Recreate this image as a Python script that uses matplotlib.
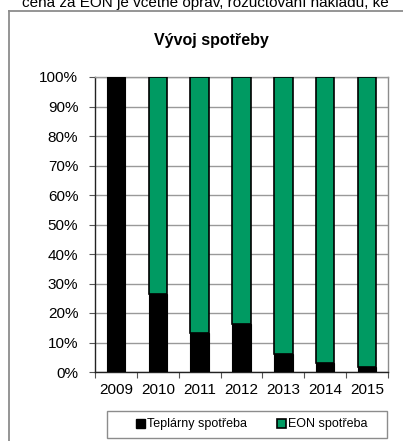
import matplotlib
matplotlib.use("Agg")
import matplotlib.pyplot as plt
from matplotlib.patches import Patch, Rectangle
from matplotlib.lines import Line2D
from matplotlib.ticker import FixedLocator, PercentFormatter

plt.rcParams['font.family'] = ['Liberation Sans', 'DejaVu Sans']

# Data
years = ['2009', '2010', '2011', '2012', '2013', '2014', '2015']
teplarny = [100.0, 26.3, 13.3, 16.2, 6.0, 2.9, 1.7]
eon = [100.0 - t for t in teplarny]
labels = ['Teplárny spotřeba', 'EON spotřeba']
title = 'Vývoj spotřeby'
top_note = 'cena za EON je včetně oprav, rozúčtování nákladů, ke'

W, H = 403, 441
fig = plt.figure(figsize=(W / 100, H / 100), dpi=100)

# Frame of the embedded chart and text above it (the text is cut at the top as in the page)
fig.add_artist(Line2D([8.5 / W, 8.5 / W], [0, 1 - 11 / H], color='#8c8c8c', lw=1.3))
fig.add_artist(Line2D([8.5 / W, 1], [1 - 11 / H, 1 - 11 / H], color='#8c8c8c', lw=1.3))
fig.text(22 / W, 1 - 7 / H, top_note, fontsize=11, va='baseline', ha='left')

ax = fig.add_axes([95 / W, 1 - 372 / H, (388 - 95) / W, (372 - 77) / H])

x = list(range(len(years)))
green = '#009a62'
ax.bar(x, teplarny, width=0.44, color='black', edgecolor='black', linewidth=0.8, zorder=3)
ax.bar(x, eon, width=0.44, bottom=teplarny, color=green, edgecolor='black', linewidth=1.2, zorder=3)

ax.set_xlim(-0.5, len(years) - 0.5)
ax.set_ylim(0, 100)
ax.yaxis.set_major_locator(FixedLocator(range(0, 101, 10)))
ax.yaxis.set_major_formatter(PercentFormatter(decimals=0))
ax.grid(axis='y', color='#999999', lw=1.0, zorder=0)

ax.set_xticks(x)
ax.set_xticklabels(years)
ax.set_xticks([i - 0.5 for i in range(len(years) + 1)], minor=True)
ax.tick_params(axis='x', which='major', length=0, pad=8, labelsize=11)
ax.tick_params(axis='x', which='minor', length=4, width=0.8, color='#555555', direction='out')
ax.tick_params(axis='y', length=4, width=0.8, color='#555555', labelsize=11, pad=8)

ax.spines['left'].set_color('#222222')
ax.spines['bottom'].set_color('#222222')
ax.spines['right'].set_color('#8c8c8c')
ax.spines['top'].set_color('#999999')
for s in ax.spines.values():
    s.set_linewidth(1.0)

fig.text(211 / W, 1 - 40 / H, title, fontsize=11.5, fontweight='bold', ha='center', va='center')

# Legend box
fig.add_artist(Rectangle((107 / W, 1 - 438 / H), 280 / W, 27 / H, transform=fig.transFigure,
                         fill=False, edgecolor='#8c8c8c', lw=1.0))
handles = [Patch(facecolor='black', edgecolor='black'),
           Patch(facecolor=green, edgecolor='black', linewidth=1.2)]
fig.legend(handles, labels, loc='center', bbox_to_anchor=(252 / W, 1 - 424.5 / H), ncol=2,
           frameon=False, fontsize=9, handlelength=0.7, handleheight=0.7,
           handletextpad=0.2, columnspacing=2.4)

fig.savefig('out.png', dpi=100)
